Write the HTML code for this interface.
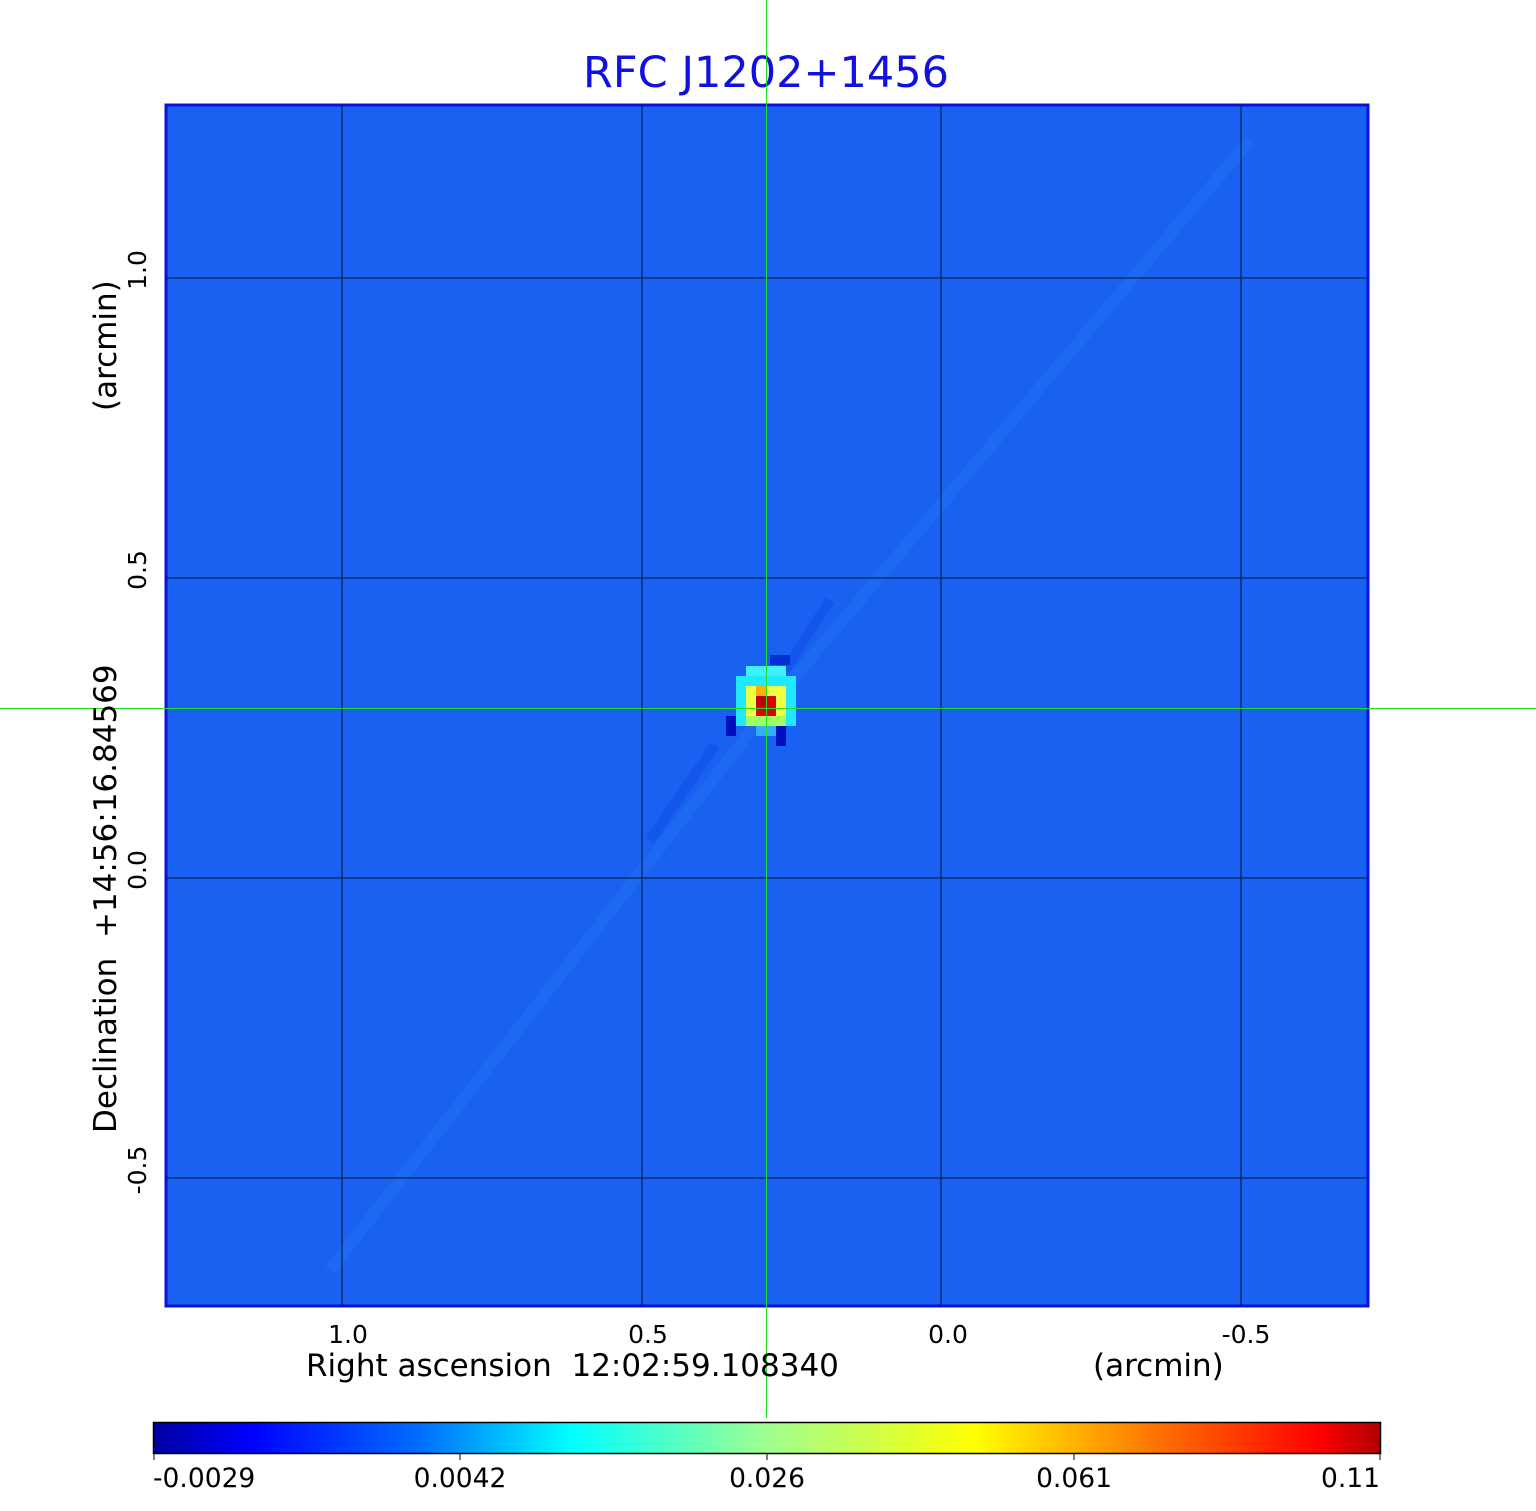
<!DOCTYPE html>
<html><head><meta charset="utf-8"><style>
html,body{margin:0;padding:0;background:#fff;}
svg{display:block;font-family:"DejaVu Sans","Liberation Sans",sans-serif;}
</style></head><body>
<svg width="1536" height="1511" viewBox="0 0 1536 1511" xmlns="http://www.w3.org/2000/svg">
<defs>
<linearGradient id="jet" x1="0" x2="1" y1="0" y2="0">
<stop offset="0" stop-color="#0000a0"/>
<stop offset="0.08" stop-color="#0000ff"/>
<stop offset="0.22" stop-color="#0070ff"/>
<stop offset="0.34" stop-color="#00ffff"/>
<stop offset="0.5" stop-color="#a0ff90"/>
<stop offset="0.67" stop-color="#ffff00"/>
<stop offset="0.82" stop-color="#ff7000"/>
<stop offset="0.95" stop-color="#ff0000"/>
<stop offset="1" stop-color="#b00000"/>
</linearGradient>
</defs>
<text x="766" y="87" font-size="43" fill="#1010e0" text-anchor="middle">RFC J1202+1456</text>
<rect x="166" y="105" width="1202" height="1201" fill="rgb(25,97,240)" stroke="#0a14d8" stroke-width="3"/>
<g stroke="rgb(40,120,245)" stroke-width="12" opacity="0.35" fill="none">
<path d="M1250 140 L775 700 L330 1270"/>
</g>
<g stroke="rgb(15,75,230)" stroke-width="10" opacity="0.5" fill="none">
<path d="M830 600 L785 670"/><path d="M715 745 L650 840"/>
</g>
<g stroke="#000" stroke-width="1" opacity="0.8">
<line x1="342" y1="106" x2="342" y2="1305"/>
<line x1="642" y1="106" x2="642" y2="1305"/>
<line x1="941" y1="106" x2="941" y2="1305"/>
<line x1="1241" y1="106" x2="1241" y2="1305"/>
<line x1="167" y1="278" x2="1367" y2="278"/>
<line x1="167" y1="578" x2="1367" y2="578"/>
<line x1="167" y1="878" x2="1367" y2="878"/>
<line x1="167" y1="1178" x2="1367" y2="1178"/>
</g>
<g>
<rect x="736" y="676" width="60" height="50" fill="#20e8ff"/>
<rect x="746" y="666" width="40" height="10" fill="#40f0ff"/>
<rect x="746" y="716" width="40" height="10" fill="#a0ff60"/>
<rect x="746" y="686" width="40" height="30" fill="#f0ff40"/>
<rect x="756" y="686" width="10" height="10" fill="#ffb000"/>
<rect x="756" y="696" width="20" height="20" fill="#e00000"/>
<rect x="756" y="696" width="10" height="10" fill="#c00000"/>
<rect x="756" y="726" width="20" height="10" fill="#30b0ff"/>
<rect x="726" y="716" width="10" height="20" fill="#0010c0"/>
<rect x="776" y="726" width="10" height="20" fill="#0010c0"/>
<rect x="770" y="655" width="20" height="10" fill="#0030d0"/>
</g>
<line x1="766.5" y1="0" x2="766.5" y2="1418" stroke="#22dd22" stroke-width="1"/>
<line x1="0" y1="708.5" x2="1536" y2="708.5" stroke="#22dd22" stroke-width="1"/>
<g font-size="25" fill="#000" text-anchor="middle">
<text x="348" y="1343">1.0</text>
<text x="648" y="1343">0.5</text>
<text x="948" y="1343">0.0</text>
<text x="1246" y="1343">-0.5</text>
</g>
<text x="306" y="1376" font-size="31" fill="#000">Right ascension &#160;12:02:59.108340</text>
<text x="1093" y="1376" font-size="31" fill="#000">(arcmin)</text>
<g font-size="25" fill="#000" text-anchor="middle">
<text transform="translate(146,270) rotate(-90)">1.0</text>
<text transform="translate(146,570) rotate(-90)">0.5</text>
<text transform="translate(146,870) rotate(-90)">0.0</text>
<text transform="translate(146,1170) rotate(-90)">-0.5</text>
</g>
<text transform="translate(116,1133) rotate(-90)" font-size="31" fill="#000">Declination &#160;+14:56:16.84569</text>
<text transform="translate(116,411) rotate(-90)" font-size="31" fill="#000">(arcmin)</text>
<rect x="153.5" y="1422.5" width="1227" height="31" fill="url(#jet)" stroke="#000" stroke-width="1.5"/>
<g stroke="#000"><line x1="154" y1="1454" x2="154" y2="1460"/><line x1="460" y1="1454" x2="460" y2="1460"/><line x1="767" y1="1454" x2="767" y2="1460"/><line x1="1074" y1="1454" x2="1074" y2="1460"/><line x1="1380" y1="1454" x2="1380" y2="1460"/></g>
<g font-size="26.5" fill="#000">
<text x="153" y="1487">-0.0029</text>
<text x="460" y="1487" text-anchor="middle">0.0042</text>
<text x="767" y="1487" text-anchor="middle">0.026</text>
<text x="1074" y="1487" text-anchor="middle">0.061</text>
<text x="1380" y="1487" text-anchor="end">0.11</text>
</g>
</svg>
</body></html>
